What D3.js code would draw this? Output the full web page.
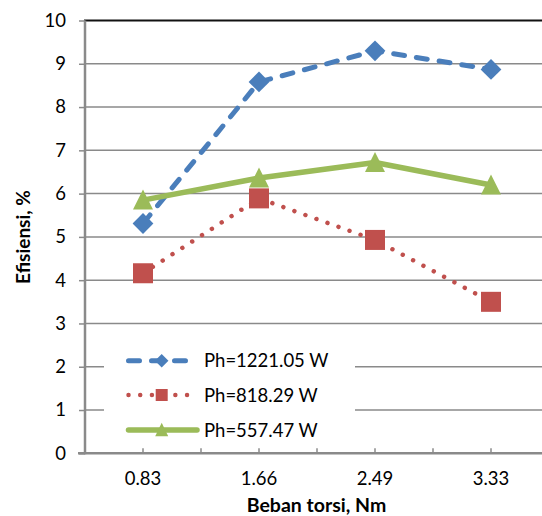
<!DOCTYPE html>
<html><head><meta charset="utf-8">
<script src="https://cdn.jsdelivr.net/npm/d3@7"></script>
<style>
html,body{margin:0;padding:0;background:#fff;}
svg{display:block;font-family:Lato,"Open Sans",sans-serif;}
</style></head>
<body><svg id="c" width="542" height="516"></svg>
<script>
const categories = ["0.83","1.66","2.49","3.33"];
const seriesNames = ["Ph=1221.05 W","Ph=818.29 W","Ph=557.47 W"];
const ph1221 = [5.31, 8.58, 9.30, 8.87];
const ph818 = [4.16, 5.89, 4.93, 3.50];
const ph557 = [5.85, 6.36, 6.72, 6.20];
const yTicks = [0,1,2,3,4,5,6,7,8,9,10];
const yTitle = "Efisiensi, %";
const xTitle = "Beban torsi, Nm";

(function(){
const svg = d3.select("#c");
const pL = 85, pR = 549, pT = 20.5, pB = 453.3;
const x = d3.scaleBand().domain(categories).range([pL, pR]).padding(0);
const y = d3.scaleLinear().domain([0,10]).range([pB, pT]);
const cx = d => x(d) + x.bandwidth()/2;

svg.append("g").selectAll("line").data(yTicks.filter(v=>v>0 && v<10)).join("line")
  .attr("x1", pL).attr("x2", 542).attr("y1", d=>y(d)).attr("y2", d=>y(d))
  .attr("stroke", "#8a8a8a").attr("stroke-width", 1.5);
svg.append("line").attr("x1", pL-1).attr("x2", 542).attr("y1", y(10)).attr("y2", y(10))
  .attr("stroke", "#111").attr("stroke-width", 2);

const yAxis = svg.append("g").attr("transform", `translate(${pL},0)`)
  .call(d3.axisLeft(y).tickValues(yTicks).tickSize(6).tickPadding(13).tickFormat(d3.format("d")));
yAxis.select(".domain").remove();
yAxis.selectAll(".tick line").attr("stroke", "#8a8a8a").attr("stroke-width", 1.5);
yAxis.selectAll(".tick text").attr("font-size", 18.5).attr("fill", "#000").attr("font-family", "Lato");
svg.append("line").attr("x1", pL).attr("x2", pL).attr("y1", y(10)).attr("y2", pB+1)
  .attr("stroke", "#8a8a8a").attr("stroke-width", 2.5);

const xAxis = svg.append("g").attr("transform", `translate(0,${pB})`)
  .call(d3.axisBottom(x).tickSize(-5).tickPadding(19));
xAxis.select(".domain").remove();
xAxis.selectAll(".tick line").attr("stroke", "#8a8a8a").attr("stroke-width", 1.5);
xAxis.selectAll(".tick text").attr("font-size", 18.5).attr("fill", "#000").attr("font-family", "Lato");
svg.append("g").selectAll("line").data(categories.slice(1)).join("line")
  .attr("x1", d=>x(d)).attr("x2", d=>x(d)).attr("y1", pB-5).attr("y2", pB)
  .attr("stroke", "#8a8a8a").attr("stroke-width", 1.5);
svg.append("line").attr("x1", pL-7).attr("x2", 542).attr("y1", pB).attr("y2", pB)
  .attr("stroke", "#8a8a8a").attr("stroke-width", 2.5);

svg.append("text").attr("transform", `translate(30,237) rotate(-90)`).attr("text-anchor","middle")
  .attr("font-size", 19).attr("font-weight","bold").attr("font-family","Lato").text(yTitle);
svg.append("text").attr("x", 316.5).attr("y", 512).attr("text-anchor","middle")
  .attr("font-size", 19.5).attr("font-weight","bold").attr("font-family","Lato").text(xTitle);

const styles = [
  {data: ph1221, color: "#4a7ebb", w: 5, dash: "11,12", cap: "round", marker: "diamond"},
  {data: ph818, color: "#c0504d", w: 4.5, dash: "0.01,11.7", cap: "round", marker: "square"},
  {data: ph557, color: "#9bbb59", w: 5.5, dash: null, cap: "round", marker: "triangle"}
];
const line = d3.line().x((d,i)=>cx(categories[i])).y(d=>y(d));

function drawMarker(g, type, px, py, color, s) {
  if (type === "diamond") {
    const r = s*0.52;
    g.append("path").attr("d", `M${px},${py-r}L${px+r},${py}L${px},${py+r}L${px-r},${py}Z`).attr("fill", color);
  } else if (type === "square") {
    g.append("rect").attr("x", px-s/2).attr("y", py-s/2).attr("width", s).attr("height", s).attr("fill", color);
  } else {
    const h = s*0.95;
    g.append("path").attr("d", `M${px},${py-h/2-1}L${px+s/2},${py+h/2}L${px-s/2},${py+h/2}Z`).attr("fill", color);
  }
}

styles.forEach(st => {
  svg.append("path").datum(st.data).attr("d", line).attr("fill","none")
    .attr("stroke", st.color).attr("stroke-width", st.w)
    .attr("stroke-dasharray", st.dash).attr("stroke-linecap", st.cap).attr("stroke-linejoin","round");
});
styles.forEach(st => {
  const g = svg.append("g");
  st.data.forEach((v,i) => drawMarker(g, st.marker, cx(categories[i]), y(v), st.color, 20));
});

const lg = svg.append("g");
lg.append("rect").attr("x", 104).attr("y", 343).attr("width", 251).attr("height", 103).attr("fill", "#fff");
const rowsY = [360.7, 395, 430];
styles.forEach((st, i) => {
  const yy = rowsY[i];
  const x2 = st.marker === "triangle" ? 197 : 188;
  lg.append("line").attr("x1", 128.5).attr("x2", x2).attr("y1", yy).attr("y2", yy)
    .attr("stroke", st.color).attr("stroke-width", st.w)
    .attr("stroke-dasharray", st.dash)
    .attr("stroke-linecap", st.cap);
  drawMarker(lg, st.marker, 161.7, yy, st.color, st.marker==="square" ? 12 : 13);
  lg.append("text").attr("x", 204).attr("y", yy+6.5).attr("font-size", 18.5).attr("font-family","Lato")
    .attr("fill","#000").text(seriesNames[i]);
});
})();
</script></body></html>
